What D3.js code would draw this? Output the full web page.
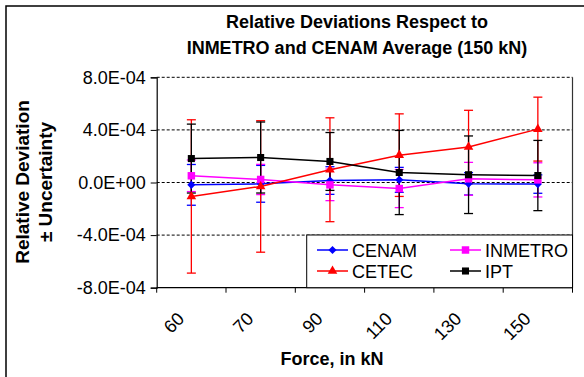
<!DOCTYPE html>
<html>
<head>
<meta charset="utf-8">
<script src="https://cdn.jsdelivr.net/npm/d3@7"></script>
<style>
  html, body { margin: 0; padding: 0; background: #fff; }
  svg { display: block; font-family: "Liberation Sans", Arial, sans-serif; }
</style>
</head>
<body>
<svg id="chart" width="584" height="377"></svg>
<script>
// ---- data ----
const categories = ["60", "70", "90", "110", "130", "150"];
const yTicks = [-8e-4, -4e-4, 0, 4e-4, 8e-4];
const yTickLabels = ["-8.0E-04", "-4.0E-04", "0.0E+00", "4.0E-04", "8.0E-04"];
const seriesNames = ["CENAM", "INMETRO", "CETEC", "IPT"];
const cenam      = [-1.8e-5, -1.0e-5, 1.5e-5, 2.0e-5, -1.0e-5, -1.2e-5];
const cenamErr   = [1.55e-4, 1.4e-4, 1.05e-4, 0.95e-4, 0.85e-4, 0.7e-4];
const inmetro    = [5.1e-5, 2.3e-5, -1.8e-5, -4.6e-5, 2.8e-5, 2.0e-5];
const inmetroErr = [1.2e-4, 1.15e-4, 1.2e-4, 1.45e-4, 1.25e-4, 1.3e-4];
const cetec      = [-1.06e-4, -3.0e-5, 9.7e-5, 2.08e-4, 2.7e-4, 4.06e-4];
const cetecErr   = [5.83e-4, 5.0e-4, 3.95e-4, 3.14e-4, 2.79e-4, 2.43e-4];
const ipt        = [1.82e-4, 1.9e-4, 1.6e-4, 7.6e-5, 5.9e-5, 5.3e-5];
const iptErr     = [2.62e-4, 2.7e-4, 2.2e-4, 3.2e-4, 2.95e-4, 2.67e-4];

const series = [
  { name: seriesNames[0], values: cenam,   errs: cenamErr,   color: "#0000FF", symbol: d3.symbolDiamond2, size: 42 },
  { name: seriesNames[1], values: inmetro, errs: inmetroErr, color: "#FF00FF", symbol: d3.symbolSquare,   size: 56 },
  { name: seriesNames[2], values: cetec,   errs: cetecErr,   color: "#FF0000", symbol: d3.symbolTriangle, size: 40 },
  { name: seriesNames[3], values: ipt,     errs: iptErr,     color: "#000000", symbol: d3.symbolSquare,   size: 50 }
];

// ---- layout ----
const svg = d3.select("#chart");
const L = 156.7, R = 572.5, T = 77.3, B = 287.7;

const x = d3.scaleBand().domain(categories).range([L, R]).padding(0);
const y = d3.scaleLinear().domain([-8e-4, 8e-4]).range([B, T]);
const cx = c => x(c) + x.bandwidth() / 2;

// outer chart border
svg.append("rect").attr("x", 6).attr("y", 6).attr("width", 600).attr("height", 400)
  .attr("fill", "none").attr("stroke", "#000").attr("stroke-width", 1.5);

// title
const title = svg.append("text").attr("text-anchor", "middle")
  .attr("font-size", 18).attr("font-weight", "bold").attr("fill", "#000");
title.append("tspan").attr("x", 357).attr("y", 28).text("Relative Deviations Respect to");
title.append("tspan").attr("x", 357).attr("y", 54).text("INMETRO and CENAM Average (150 kN)");

// gridlines (dashed)
svg.append("g").selectAll("line").data(yTicks.filter(v => v !== -8e-4)).join("line")
  .attr("x1", L).attr("x2", R).attr("y1", d => y(d)).attr("y2", d => y(d))
  .attr("stroke", "#000").attr("stroke-width", 1).attr("stroke-dasharray", "3,2");

// plot right border
svg.append("line").attr("x1", R).attr("x2", R).attr("y1", T).attr("y2", B)
  .attr("stroke", "#333").attr("stroke-width", 1.2);

// y axis
const yAxis = d3.axisLeft(y).tickValues(yTicks).tickSize(6)
  .tickFormat((d, i) => yTickLabels[i]);
const gy = svg.append("g").attr("transform", `translate(${L},0)`).call(yAxis);
gy.select(".domain").attr("stroke", "#000").attr("stroke-width", 1.2);
gy.selectAll(".tick line").attr("stroke", "#000");
gy.selectAll(".tick text").attr("font-size", 18).attr("fill", "#000")
  .attr("font-family", "Liberation Sans, Arial, sans-serif").attr("x", -11);

// x axis: boundaries as ticks
const boundaries = categories.map(c => x(c)).concat([R]);
svg.append("line").attr("x1", L).attr("x2", R).attr("y1", B).attr("y2", B)
  .attr("stroke", "#000").attr("stroke-width", 1.2);
svg.append("g").selectAll("line").data(boundaries).join("line")
  .attr("x1", d => d).attr("x2", d => d).attr("y1", B).attr("y2", B + 5)
  .attr("stroke", "#000");

// x tick labels rotated
svg.append("g").selectAll("text").data(categories).join("text")
  .attr("transform", d => `translate(${cx(d) - 6},320) rotate(-45)`)
  .attr("text-anchor", "end").attr("font-size", 18).attr("fill", "#000")
  .text(d => d);

// axis titles
svg.append("text").attr("x", 332).attr("y", 365).attr("text-anchor", "middle")
  .attr("font-size", 18).attr("font-weight", "bold").text("Force, in kN");
const yt = svg.append("text").attr("transform", "translate(0,182) rotate(-90)")
  .attr("text-anchor", "middle").attr("font-size", 19).attr("font-weight", "bold");
yt.append("tspan").attr("x", 0).attr("y", 29).text("Relative Deviation");
yt.append("tspan").attr("x", 0).attr("y", 52).text("± Uncertainty");

// error bars
const capW = 4.5;
series.forEach(s => {
  const g = svg.append("g").attr("stroke", s.color).attr("stroke-width", 1.3);
  categories.forEach((c, i) => {
    const px = cx(c), hi = y(s.values[i] + s.errs[i]), lo = y(s.values[i] - s.errs[i]);
    g.append("line").attr("x1", px).attr("x2", px).attr("y1", hi).attr("y2", lo);
    g.append("line").attr("x1", px - capW).attr("x2", px + capW).attr("y1", hi).attr("y2", hi);
    g.append("line").attr("x1", px - capW).attr("x2", px + capW).attr("y1", lo).attr("y2", lo);
  });
});

// lines + markers
const line = d3.line().x((d, i) => cx(categories[i])).y(d => y(d));
series.forEach(s => {
  svg.append("path").datum(s.values).attr("d", line)
    .attr("fill", "none").attr("stroke", s.color).attr("stroke-width", 1.5);
});
series.forEach(s => {
  svg.append("g").selectAll("path").data(s.values).join("path")
    .attr("transform", (d, i) => `translate(${cx(categories[i])},${y(d)})`)
    .attr("d", d3.symbol().type(s.symbol).size(s.size))
    .attr("fill", s.color);
});

// legend
const lg = svg.append("g");
lg.append("rect").attr("x", 306.7).attr("y", 235).attr("width", R - 306.7).attr("height", B - 235)
  .attr("fill", "#fff").attr("stroke", "#000").attr("stroke-width", 1);
const legendPos = [
  { s: series[0], lx: 317, ly: 250 },
  { s: series[1], lx: 450, ly: 250 },
  { s: series[2], lx: 317, ly: 271 },
  { s: series[3], lx: 450, ly: 271 }
];
legendPos.forEach(p => {
  lg.append("line").attr("x1", p.lx).attr("x2", p.lx + 31).attr("y1", p.ly).attr("y2", p.ly)
    .attr("stroke", p.s.color).attr("stroke-width", 1.5);
  lg.append("path").attr("transform", `translate(${p.lx + 15.5},${p.ly})`)
    .attr("d", d3.symbol().type(p.s.symbol).size(p.s.size)).attr("fill", p.s.color);
  lg.append("text").attr("x", p.lx + 35).attr("y", p.ly + 6.5).attr("font-size", 18)
    .attr("fill", "#000").text(p.s.name);
});
</script>
</body>
</html>
